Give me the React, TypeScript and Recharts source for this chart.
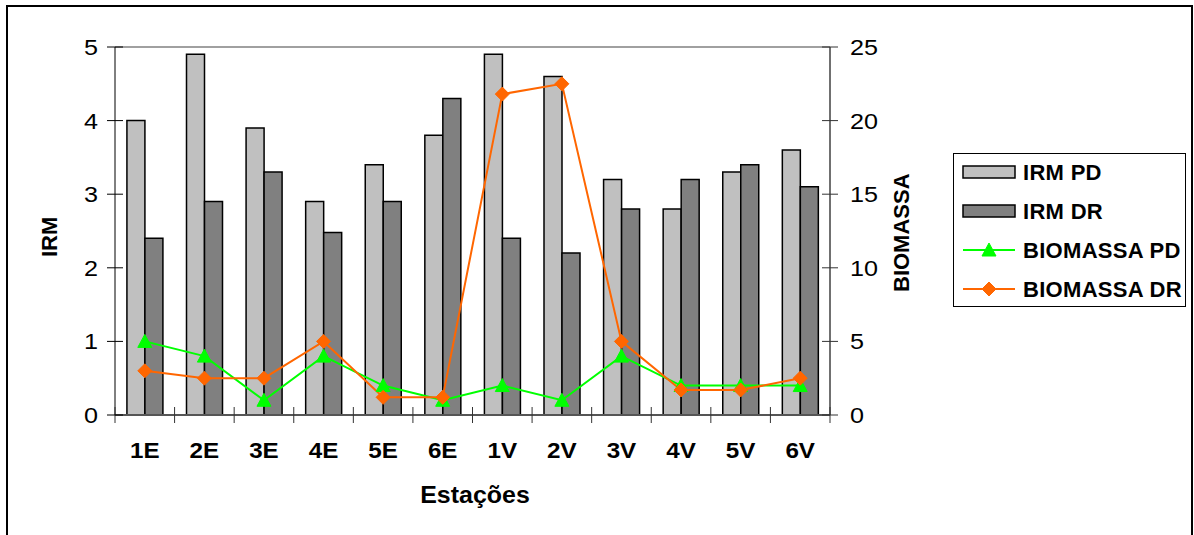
import React from 'react';
import { ComposedChart, Bar, Line, XAxis, YAxis, ReferenceLine, Legend } from 'recharts';

const categories = ['1E', '2E', '3E', '4E', '5E', '6E', '1V', '2V', '3V', '4V', '5V', '6V'];
const irmPD = [4.0, 4.9, 3.9, 2.9, 3.4, 3.8, 4.9, 4.6, 3.2, 2.8, 3.3, 3.6];
const irmDR = [2.4, 2.9, 3.3, 2.48, 2.9, 4.3, 2.4, 2.2, 2.8, 3.2, 3.4, 3.1];
const biomassaPD = [5, 4, 1, 4, 2, 1, 2, 1, 4, 2, 2, 2];
const biomassaDR = [3, 2.5, 2.5, 5, 1.2, 1.2, 21.8, 22.5, 5, 1.7, 1.7, 2.5];
const leftTicks = [0, 1, 2, 3, 4, 5];
const rightTicks = [0, 5, 10, 15, 20, 25];
const seriesNames = ['IRM PD', 'IRM DR', 'BIOMASSA PD', 'BIOMASSA DR'];

const data = categories.map((cat, i) => ({
  cat,
  irmPD: irmPD[i],
  irmDR: irmDR[i],
  biomassaPD: biomassaPD[i],
  biomassaDR: biomassaDR[i],
}));

const FONT = '"Liberation Sans", Arial, sans-serif';
const W = 1194;
const H = 535;
const PLOT_L = 115;
const PLOT_R = 830;
const PLOT_T = 47;
const PLOT_B = 415;
const AXIS_W = 60;
const XAXIS_H = 60;
const PLOT_W = PLOT_R - PLOT_L;

const LIGHT = '#C0C0C0';
const DARK = '#808080';
const GREEN = '#00FF00';
const ORANGE = '#FF6600';

const SText = (props: any) => {
  const { x, y, sx = 1, anchor = 'start', size, bold, children, spacing } = props;
  return (
    <text
      x={0}
      y={0}
      transform={`translate(${x} ${y}) scale(${sx} 1)`}
      textAnchor={anchor}
      fontSize={size}
      fontWeight={bold ? 'bold' : 'normal'}
      fontFamily={FONT}
      fill="#000"
      letterSpacing={spacing}
    >
      {children}
    </text>
  );
};

const LeftTick = (props: any) => {
  const { x, y, payload } = props;
  return (
    <g>
      <line x1={x - 8} x2={x + 8} y1={y} y2={y} stroke="#000" strokeWidth={1} />
      <SText x={x - 17} y={y + 8} anchor="end" size={22.5} sx={1.12}>
        {payload.value}
      </SText>
    </g>
  );
};

const RightTick = (props: any) => {
  const { x, y, payload } = props;
  return (
    <g>
      <line x1={x - 8} x2={x + 8} y1={y} y2={y} stroke="#333" strokeWidth={1} />
      <SText x={x + 20} y={y + 8} anchor="start" size={22.5} sx={1.12}>
        {payload.value}
      </SText>
    </g>
  );
};

const XTick = (props: any) => {
  const { x, y, payload, index } = props;
  const step = PLOT_W / categories.length;
  return (
    <g>
      <line x1={x - step / 2} x2={x - step / 2} y1={y - 8} y2={y + 8} stroke="#333" strokeWidth={1} />
      {index === categories.length - 1 && (
        <line x1={x + step / 2} x2={x + step / 2} y1={y - 8} y2={y + 8} stroke="#333" strokeWidth={1} />
      )}
      <SText x={x} y={y + 43} anchor="middle" size={22} bold sx={1.1}>
        {payload.value}
      </SText>
    </g>
  );
};

const TriangleDot = (props: any) => {
  const { cx, cy, index } = props;
  if (cx == null || cy == null) return <g key={`t${index}`} />;
  return (
    <path
      key={`t${index}`}
      d={`M${cx},${cy - 7} L${cx + 7},${cy + 6} L${cx - 7},${cy + 6} Z`}
      fill={GREEN}
      stroke={GREEN}
      strokeWidth={1}
    />
  );
};

const DiamondDot = (props: any) => {
  const { cx, cy, index } = props;
  if (cx == null || cy == null) return <g key={`d${index}`} />;
  return (
    <path
      key={`d${index}`}
      d={`M${cx},${cy - 7} L${cx + 7},${cy} L${cx},${cy + 7} L${cx - 7},${cy} Z`}
      fill={ORANGE}
      stroke={ORANGE}
      strokeWidth={1}
    />
  );
};

const LegendContent = () => {
  const rows = [19, 58, 97, 136];
  return (
    <svg width={234} height={155} style={{ display: 'block' }}>
      <rect x={0.5} y={0.5} width={232} height={153} fill="#fff" stroke="#000" strokeWidth={1} />
      <rect x={10} y={rows[0] - 6} width={52} height={12} fill={LIGHT} stroke="#000" strokeWidth={1.5} />
      <rect x={10} y={rows[1] - 6} width={52} height={12} fill={DARK} stroke="#000" strokeWidth={1.5} />
      <line x1={10} x2={62} y1={rows[2]} y2={rows[2]} stroke={GREEN} strokeWidth={2} />
      <TriangleDot cx={36} cy={rows[2]} index="lg" />
      <line x1={10} x2={62} y1={rows[3]} y2={rows[3]} stroke={ORANGE} strokeWidth={2} />
      <DiamondDot cx={36} cy={rows[3]} index="lg" />
      {seriesNames.map((n, i) => (
        <SText key={n} x={70} y={rows[i] + 8} size={22} bold sx={1} spacing={0.3}>
          {n}
        </SText>
      ))}
    </svg>
  );
};

export default function App() {
  return (
    <div style={{ position: 'relative', width: W, height: H, overflow: 'hidden', background: '#fff' }}>
      <style>{`body{margin:0;}`}</style>
      <div
        style={{
          position: 'absolute',
          left: 6,
          top: 5,
          width: 1187,
          height: 600,
          border: '2.5px solid #000',
          boxSizing: 'border-box',
        }}
      />
      <div style={{ position: 'absolute', left: 0, top: 0 }}>
        <ComposedChart
          width={W}
          height={H}
          data={data}
          margin={{ top: PLOT_T, right: W - PLOT_R - AXIS_W, bottom: H - PLOT_B - XAXIS_H, left: PLOT_L - AXIS_W }}
          barCategoryGap="20%"
          barGap={0}
        >
          <XAxis
            dataKey="cat"
            xAxisId={0}
            height={XAXIS_H}
            interval={0}
            tickSize={0}
            tickMargin={0}
            tickLine={false}
            tick={<XTick />}
            axisLine={{ stroke: '#555', strokeWidth: 2 }}
            label={() => (
              <SText x={475} y={503} anchor="middle" size={24} bold sx={1.04}>
                Estações
              </SText>
            )}
          />
          <YAxis
            yAxisId="left"
            orientation="left"
            width={AXIS_W}
            domain={[0, 5]}
            ticks={leftTicks}
            interval={0}
            tickSize={0}
            tickMargin={0}
            tickLine={false}
            tick={<LeftTick />}
            axisLine={{ stroke: '#000', strokeWidth: 1 }}
            label={() => (
              <text
                x={57}
                y={257}
                transform="rotate(-90 57 257)"
                textAnchor="start"
                fontSize={22}
                fontWeight="bold"
                fontFamily={FONT}
                fill="#000"
              >
                IRM
              </text>
            )}
          />
          <YAxis
            yAxisId="right"
            orientation="right"
            width={AXIS_W}
            domain={[0, 25]}
            ticks={rightTicks}
            interval={0}
            tickSize={0}
            tickMargin={0}
            tickLine={false}
            tick={<RightTick />}
            axisLine={{ stroke: '#404040', strokeWidth: 1.5 }}
            label={() => (
              <text
                x={909}
                y={292}
                transform="rotate(-90 909 292)"
                textAnchor="start"
                fontSize={22}
                fontWeight="bold"
                fontFamily={FONT}
                fill="#000"
              >
                BIOMASSA
              </text>
            )}
          />
          <ReferenceLine yAxisId="left" y={5} stroke="#808080" strokeWidth={1.5} ifOverflow="extendDomain" />
          <Bar yAxisId="left" dataKey="irmPD" name={seriesNames[0]} fill={LIGHT} stroke="#000" strokeWidth={1.5} isAnimationActive={false} />
          <Bar yAxisId="left" dataKey="irmDR" name={seriesNames[1]} fill={DARK} stroke="#000" strokeWidth={1.5} isAnimationActive={false} />
          <Line
            yAxisId="right"
            type="linear"
            dataKey="biomassaPD"
            name={seriesNames[2]}
            stroke={GREEN}
            strokeWidth={2}
            dot={(p: any) => <TriangleDot {...p} key={`tp${p.index}`} />}
            activeDot={false}
            isAnimationActive={false}
          />
          <Line
            yAxisId="right"
            type="linear"
            dataKey="biomassaDR"
            name={seriesNames[3]}
            stroke={ORANGE}
            strokeWidth={2}
            dot={(p: any) => <DiamondDot {...p} key={`dp${p.index}`} />}
            activeDot={false}
            isAnimationActive={false}
          />
          <Legend
            layout="vertical"
            align="center"
            verticalAlign="middle"
            wrapperStyle={{ position: 'absolute', left: 953, top: 153, width: 234, height: 155 }}
            content={() => <LegendContent />}
          />
        </ComposedChart>
      </div>
    </div>
  );
}
